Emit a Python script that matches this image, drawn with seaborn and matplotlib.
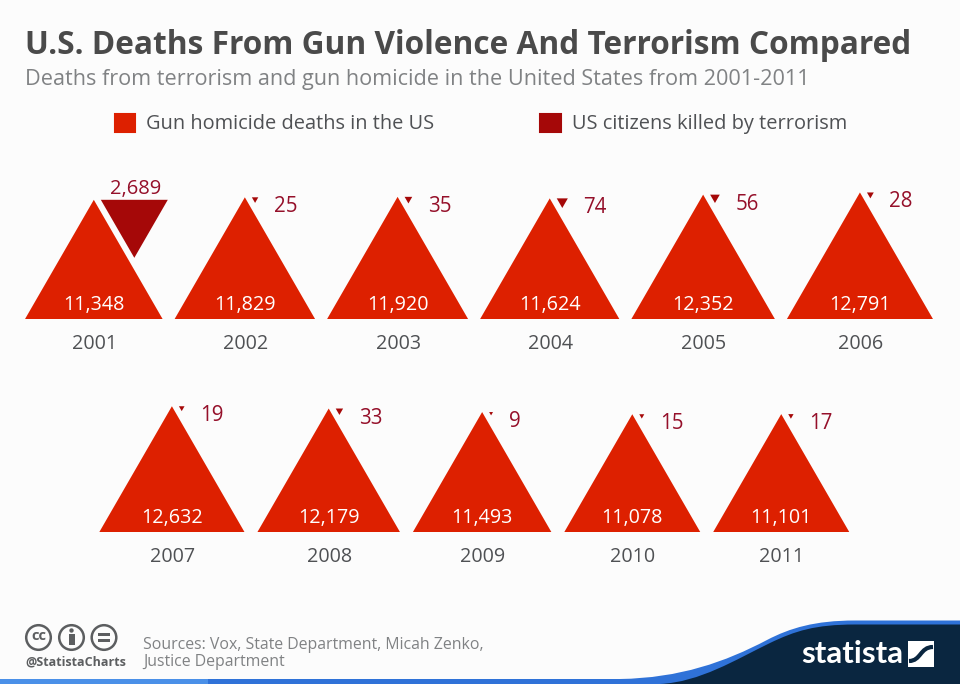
import numpy as np
import pandas as pd
import matplotlib.pyplot as plt
import seaborn as sns
from matplotlib.patches import Circle, PathPatch, Patch, Rectangle
from matplotlib.path import Path

# Values
years = [2001, 2002, 2003, 2004, 2005, 2006, 2007, 2008, 2009, 2010, 2011]
gun_deaths = [11348, 11829, 11920, 11624, 12352, 12791, 12632, 12179, 11493, 11078, 11101]
terror_deaths = [2689, 25, 35, 74, 56, 28, 19, 33, 9, 15, 17]
rows = [0, 0, 0, 0, 0, 0, 1, 1, 1, 1, 1]

title = "U.S. Deaths From Gun Violence And Terrorism Compared"
subtitle = "Deaths from terrorism and gun homicide in the United States from 2001-2011"
legend_labels = ["Gun homicide deaths in the US", "US citizens killed by terrorism"]
source_lines = ["Sources: Vox, State Department, Micah Zenko,", "Justice Department"]

RED = "#dd2000"
DARK_RED = "#a50808"
LABEL_RED = "#95102a"
GREY = "#4f5154"
LIGHT_GREY = "#808284"
BG = "#fcfcfc"
NAVY = "#0a2640"
BLUE = "#2f72d8"

# Layout in pixels
K = 1.292  # triangle width per sqrt(value), so area follows the value
ROW_BASE = [319, 532]
ROW_SPAN = [(25, 933), (99.3, 849.3)]
PX = 72 / 100  # points per pixel at dpi 100

sns.set_theme(style="white")
plt.rcParams["font.family"] = ["Open Sans", "DejaVu Sans"]

df = pd.DataFrame({"year": years, "gun": gun_deaths, "terror": terror_deaths, "row": rows})
df["w"] = K * np.sqrt(df["gun"])
df["h"] = df["w"] * np.sqrt(3) / 2
df["w_t"] = K * np.sqrt(df["terror"])
df["h_t"] = df["w_t"] * np.sqrt(3) / 2
df["base"] = df["row"].map(lambda r: ROW_BASE[r])

# Spread each row between its two ends with an even gap
centers = []
for r, (x0, x1) in enumerate(ROW_SPAN):
    widths = df.loc[df["row"] == r, "w"].values
    gap = (x1 - x0 - widths.sum()) / (len(widths) - 1)
    lefts = x0 + np.concatenate([[0], np.cumsum(widths[:-1] + gap)])
    centers.extend(lefts + widths / 2)
df["x"] = centers
df["apex"] = df["base"] - df["h"]
df["x_t"] = df["x"] + 7 + df["w_t"] / 2

# Markers anchored on the base centre / top centre, scaled by their height
up = Path([(-0.577, 0), (0.577, 0), (0, 1), (-0.577, 0)], closed=True)
down = Path([(-0.577, 0), (0.577, 0), (0, -1), (-0.577, 0)], closed=True)

fig = plt.figure(figsize=(9.6, 6.84), dpi=100, facecolor=BG)
ax = fig.add_axes([0, 0, 1, 1], facecolor=BG)

sns.scatterplot(data=df, x="x", y="base", s=(2 * df["h"] * PX) ** 2, marker=up,
                color=RED, linewidth=0, legend=False, ax=ax, clip_on=False)
sns.scatterplot(data=df, x="x_t", y="apex", s=(2 * df["h_t"] * PX) ** 2, marker=down,
                color=DARK_RED, linewidth=0, legend=False, ax=ax, clip_on=False)

ax.set_xlim(0, 960)
ax.set_ylim(684, 0)
ax.axis("off")

for _, d in df.iterrows():
    ax.text(d["x"], d["base"] - 14, f"{int(d['gun']):,}", color="white", fontsize=14.2,
            ha="center", va="center")
    ax.text(d["x"] + 0.5, d["base"] + 25, str(int(d["year"])), color=GREY, fontsize=14.2,
            ha="center", va="center")
    if d["terror"] > 1000:
        ax.text(d["x_t"] + 1, d["apex"] - 10.5, f"{int(d['terror']):,}", color=LABEL_RED,
                fontsize=14.5, ha="center", va="center")
    else:
        ax.text(d["x"] + d["w_t"] + 22.5, d["apex"] + 9.5, str(int(d["terror"])), color=LABEL_RED,
                fontsize=14.8, ha="left", va="center")

ax.text(25, 45, title, fontsize=22.8, fontweight="bold", color="#4a4a4a", va="center")
ax.text(25, 79, subtitle, fontsize=15.55, color=LIGHT_GREY, va="center")

handles = [Patch(facecolor=c, edgecolor=c, linewidth=1.5, joinstyle="round") for c in (RED, DARK_RED)]
ax.legend(handles, legend_labels, ncol=2, frameon=False, loc="center left",
          bbox_to_anchor=(115, 124), bbox_transform=ax.transData, fontsize=14.4,
          labelcolor=GREY, handlelength=1.02, handleheight=1.02, handletextpad=0.55,
          columnspacing=5.28, borderpad=0, borderaxespad=0)

# Footer: blue band and navy wave
wave_top = [(0, 679), (620, 679), (680, 678), (725, 662), (767, 640), (790, 628), (815, 620.5), (855, 620.5),
            (960, 620.5), (960, 684), (0, 684), (0, 679)]
wave_codes = [Path.MOVETO, Path.LINETO, Path.CURVE4, Path.CURVE4, Path.CURVE4, Path.CURVE4, Path.CURVE4, Path.CURVE4,
              Path.LINETO, Path.LINETO, Path.LINETO, Path.CLOSEPOLY]
ax.add_patch(PathPatch(Path(wave_top, wave_codes), facecolor=BLUE, edgecolor="none"))
ax.add_patch(Rectangle((0, 679), 208, 5, facecolor="#4a90e8", edgecolor="none"))
navy = [(660, 684), (700, 682), (735, 660), (770, 643), (795, 631), (815, 624.5), (855, 624.5),
        (960, 624.5), (960, 684), (660, 684)]
navy_codes = [Path.MOVETO, Path.CURVE4, Path.CURVE4, Path.CURVE4, Path.CURVE4, Path.CURVE4, Path.CURVE4,
              Path.LINETO, Path.LINETO, Path.CLOSEPOLY]
ax.add_patch(PathPatch(Path(navy, navy_codes), facecolor=NAVY, edgecolor="none"))

ax.text(801, 654, "statista", fontsize=22.5, fontweight="bold", family="Lato", color="white", va="center")
ax.add_patch(Rectangle((908, 641), 26, 26, facecolor="white", edgecolor="none"))
s_curve = [(909, 661), (921, 661), (920, 647), (933, 647)]
ax.add_patch(PathPatch(Path(s_curve, [Path.MOVETO, Path.CURVE4, Path.CURVE4, Path.CURVE4]),
                       facecolor="none", edgecolor=NAVY, linewidth=3))

# Licence icons
for cx in (38.5, 71.5, 104):
    ax.add_patch(Circle((cx, 637.5), 12.3, facecolor="none", edgecolor="#5c5e60", linewidth=1.8))
ax.text(38.5, 636.5, "cc", fontsize=10.5, fontweight="bold", color="#5c5e60", ha="center", va="center")
ax.add_patch(Circle((71.5, 630.5), 2.2, facecolor="#5c5e60", edgecolor="none"))
ax.add_patch(Rectangle((68.5, 634), 6, 11, facecolor="#5c5e60", edgecolor="none"))
ax.add_patch(Rectangle((98, 633), 12, 2.5, facecolor="#5c5e60", edgecolor="none"))
ax.add_patch(Rectangle((98, 639), 12, 2.5, facecolor="#5c5e60", edgecolor="none"))
ax.text(25, 662, "@StatistaCharts", fontsize=9, fontweight="bold", color="#5c5e60", va="center")

for i, line in enumerate(source_lines):
    ax.text(143, 645 + i * 17.5, line, fontsize=11.4, color=LIGHT_GREY, va="center")

fig.savefig("out.png", dpi=100, facecolor=BG)
